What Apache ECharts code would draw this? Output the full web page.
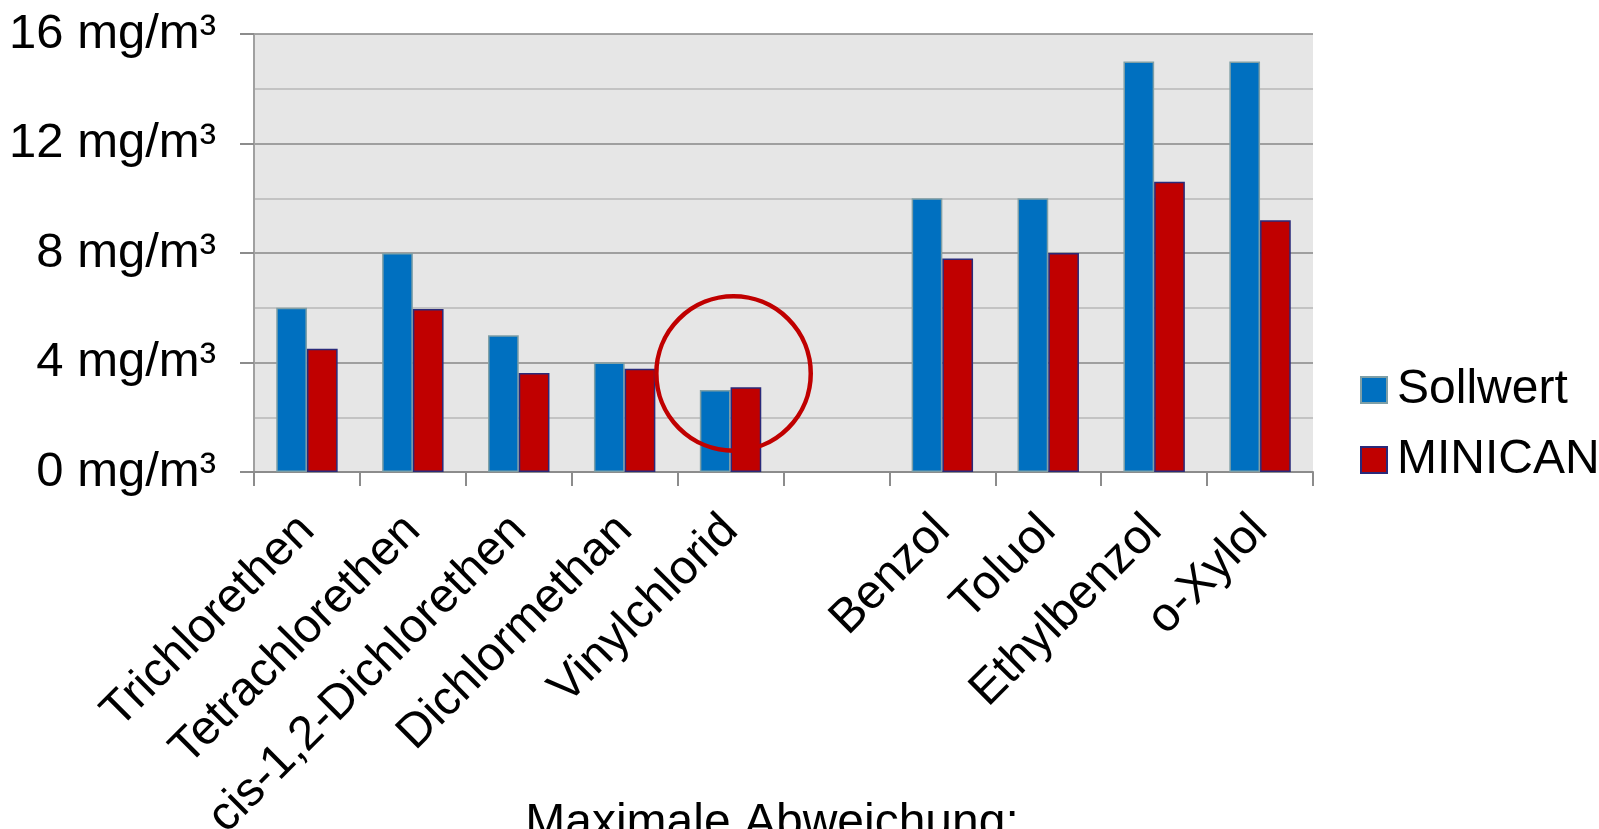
<!DOCTYPE html>
<html>
<head>
<meta charset="utf-8">
<script src="https://cdn.jsdelivr.net/npm/echarts@6/dist/echarts.min.js"></script>
<style>
html,body{margin:0;padding:0;background:#fff;}
#chart{width:1599px;height:829px;}
</style>
</head>
<body>
<div id="chart"></div>
<script>
// ---- data ----
const categories = ['Trichlorethen','Tetrachlorethen','cis-1,2-Dichlorethen','Dichlormethan','Vinylchlorid','','Benzol','Toluol','Ethylbenzol','o-Xylol'];
const sollwert = [6, 8, 5, 4, 3, null, 10, 10, 15, 15];
const minican  = [4.5, 5.95, 3.62, 3.77, 3.1, null, 7.8, 8, 10.6, 9.2];
const seriesNames = ['Sollwert', 'MINICAN'];
const yUnit = 'mg/m³';
const footerText = 'Maximale Abweichung:';
const highlightCategory = 'Vinylchlorid';
const highlightValue = 3.6;
const highlightRadiusValue = 2.82;

const FONT = '"Liberation Sans", Arial, sans-serif';
const FS = 48;
const chart = echarts.init(document.getElementById('chart'), null, {renderer: 'canvas'});

const option = {
  animation: false,
  backgroundColor: '#ffffff',
  textStyle: {fontFamily: FONT},
  grid: {left: 254, right: 286, top: 34, bottom: 357, show: true, backgroundColor: '#e6e6e6', borderWidth: 0, containLabel: false, outerBoundsMode: 'none'},
  legend: {
    orient: 'vertical',
    left: 1360, top: 366,
    padding: 0,
    itemWidth: 26, itemHeight: 26,
    itemGap: 22,
    icon: 'rect',
    textStyle: {fontSize: FS, color: '#000', fontFamily: FONT, padding: [0,0,0,5]},
    data: seriesNames
  },
  xAxis: {
    type: 'category',
    data: categories,
    axisLine: {show: true, lineStyle: {color: '#8c8c8c', width: 2}},
    axisTick: {show: true, length: 14, lineStyle: {color: '#8c8c8c', width: 2}, alignWithLabel: false},
    axisLabel: {rotate: 45, fontSize: FS, color: '#000', margin: 51, interval: 0, fontFamily: FONT},
    splitLine: {show: false}
  },
  yAxis: {
    type: 'value',
    min: 0, max: 16, interval: 4,
    axisLine: {show: true, lineStyle: {color: '#a0a0a0', width: 2}},
    axisTick: {show: true, length: 14, lineStyle: {color: '#8c8c8c', width: 2}},
    axisLabel: {fontSize: 49, color: '#000', margin: 38, formatter: v => v + ' ' + yUnit, fontFamily: FONT},
    splitLine: {show: true, lineStyle: {color: '#878787', width: 1.5}},
    minorTick: {show: false, splitNumber: 2},
    minorSplitLine: {show: true, lineStyle: {color: '#b8b8b8', width: 1.5}}
  },
  series: [
    {
      name: seriesNames[0], type: 'bar', data: sollwert,
      barGap: '0%', barCategoryGap: '42%',
      itemStyle: {color: '#0070c0', borderColor: '#7f9fa6', borderWidth: 1.5}
    },
    {
      name: seriesNames[1], type: 'bar', data: minican,
      barGap: '0%', barCategoryGap: '42%',
      itemStyle: {color: '#c00000', borderColor: '#2a2a7a', borderWidth: 1.5}
    }
  ]
};
chart.setOption(option);

// annotation circle around the highlighted category and footer text
const c = chart.convertToPixel({xAxisIndex: 0, yAxisIndex: 0}, [highlightCategory, highlightValue]);
const z = chart.convertToPixel({xAxisIndex: 0, yAxisIndex: 0}, [highlightCategory, 0]);
const r0 = chart.convertToPixel({xAxisIndex: 0, yAxisIndex: 0}, [highlightCategory, highlightRadiusValue]);
const rad = Math.abs(z[1] - r0[1]);
chart.setOption({
  graphic: [
    {type: 'circle', shape: {cx: c[0] + 3, cy: c[1], r: rad}, style: {fill: 'none', stroke: '#c00000', lineWidth: 4.5}, z: 100},
    {type: 'text', x: 772, y: 824, style: {text: footerText, font: FS + 'px ' + FONT, fill: '#000', textAlign: 'center', textVerticalAlign: 'middle'}, z: 100}
  ]
});
</script>
</body>
</html>
